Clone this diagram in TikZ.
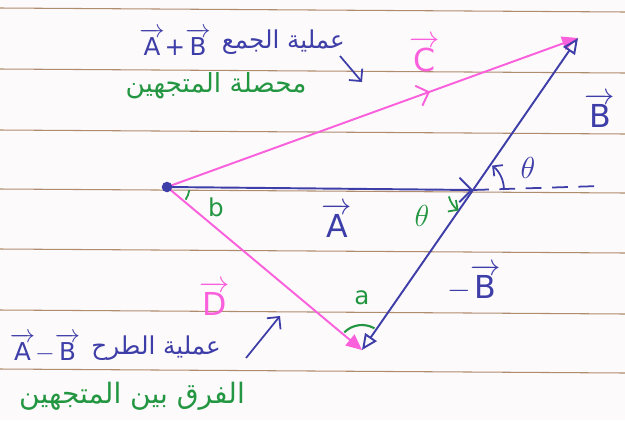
\documentclass[tikz,border=0pt]{standalone}
\usepackage{amsmath}
\usepackage{fontspec}
\setmainfont{DejaVu Sans}
\newfontfamily\arabicfont[Script=Arabic]{DejaVu Sans}
\TeXXeTstate=1
\usetikzlibrary{arrows.meta, positioning, decorations.markings}

\definecolor{inkblue}{RGB}{62,62,168}
\definecolor{inkpink}{RGB}{250,95,220}
\definecolor{inkgreen}{RGB}{35,150,65}
\definecolor{ruled}{RGB}{175,140,110}
\definecolor{paper}{RGB}{253,250,252}

\newcommand{\vlab}[1]{$\overrightarrow{\text{#1}}$}

\begin{document}
\begin{tikzpicture}[
    x=0.02cm, y=-0.02cm,
    vec/.style = {line width=1.1pt, line cap=round},
    blue vec/.style = {vec, draw=inkblue, -{Triangle[open, length=9pt, width=8pt]}},
    pink vec/.style = {vec, draw=inkpink, -{Triangle[length=9pt, width=8pt]}},
    angle arc/.style = {line width=1pt, -{Straight Barb[length=4pt]}},
    big lab/.style = {font=\fontsize{18}{18}\selectfont, inner sep=0pt},
    small lab/.style = {font=\fontsize{14}{14}\selectfont, inner sep=0pt},
    ar lab/.style = {font=\fontsize{14}{16}\selectfont\arabicfont, inner sep=0pt},
    green note/.style = {inner sep=0pt, text=inkgreen, font=\fontsize{15}{17}\selectfont\arabicfont},
    note arrow/.style = {draw=inkblue, line width=1pt, -{Straight Barb[length=5pt]}}
]

% paper
\fill[paper] (0,0) rectangle (625,420);
\useasboundingbox (0,0) rectangle (625,420);
\foreach \y in {8,69,130,189,249,310,369}
    \draw[ruled, line width=0.6pt] (0,\y) -- (625,\y+4);

% corners of the triangle
\coordinate (P) at (167,187);
\coordinate (Q) at (473,190);
\coordinate (R) at (578,38);
\coordinate (S) at (362,350);
\coordinate (far) at (600,186);

% vectors
\draw[pink vec, postaction={decorate}, decoration={markings,
    mark=at position 0.64 with {\arrow[inkpink]{Straight Barb[length=6pt]}}}] (P) -- (R);
\draw[pink vec] (P) -- (S);
\draw[vec, draw=inkblue, -{Straight Barb[length=7pt]}] (P) -- (Q);
\draw[blue vec] (Q) -- (R);
\draw[blue vec] (Q) -- (S);
\draw[inkblue, line width=1pt, dashed, dash pattern=on 9pt off 6pt] (Q) -- (far);
\fill[inkblue] (P) circle (3pt);

% angles
\draw[inkblue, angle arc] (Q) ++(0:0.62cm) arc[start angle=0, end angle=52, radius=0.62cm];
\draw[inkgreen, angle arc] (Q) ++(195:0.5cm) arc[start angle=195, end angle=235, radius=0.5cm];
\draw[inkgreen, line width=1pt] (P) ++(-8:0.45cm) arc[start angle=-8, end angle=-34, radius=0.45cm];
\draw[inkgreen, line width=1.2pt] (S) ++(60:0.5cm) arc[start angle=60, end angle=135, radius=0.5cm];

% vector labels
\node[big lab, text=inkpink] (Clab) at (425,54) {\vlab{C}};
\node[big lab, text=inkblue] (Blab) at (600,110) {\vlab{B}};
\node[big lab, text=inkblue] (Alab) at (337,220) {\vlab{A}};
\node[big lab, text=inkpink] (Dlab) at (215,298) {\vlab{D}};
\node[big lab, text=inkblue] (mBlab) at (474,283) {$-$\vlab{B}};
\node[big lab, text=inkblue] (th1) at (528,168) {$\theta$};
\node[big lab, text=inkgreen] (th2) at (422,216) {$\theta$};
\node[small lab, text=inkgreen] (blab) at (216,207) {b};
\node[small lab, text=inkgreen] (alab) at (362,298) {a};

% notes
\node[small lab, text=inkblue] (sum) at (175,42) {\vlab{A}+\vlab{B}};
\node[ar lab, text=inkblue, right=6pt of sum] (sumtxt) {\beginR عملية الجمع\endR};
\node[green note] (restxt) at (216,86) {\beginR محصلة المتجهين\endR};
\coordinate (sumtail) at (340,56);
\coordinate (sumtip) at (362,82);
\draw[note arrow] (sumtail) -- (sumtip);

\node[small lab, text=inkblue] (diff) at (45,348) {\vlab{A}$-$\vlab{B}};
\node[ar lab, text=inkblue, right=6pt of diff] (difftxt) {\beginR عملية الطرح\endR};
\node[green note, font=\fontsize{16}{18}\selectfont\arabicfont] (difres) at (132,396) {\beginR الفرق بين المتجهين\endR};
\coordinate (difftail) at (246,358);
\coordinate (difftip) at (280,316);
\draw[note arrow] (difftail) -- (difftip);

\end{tikzpicture}
\end{document}
